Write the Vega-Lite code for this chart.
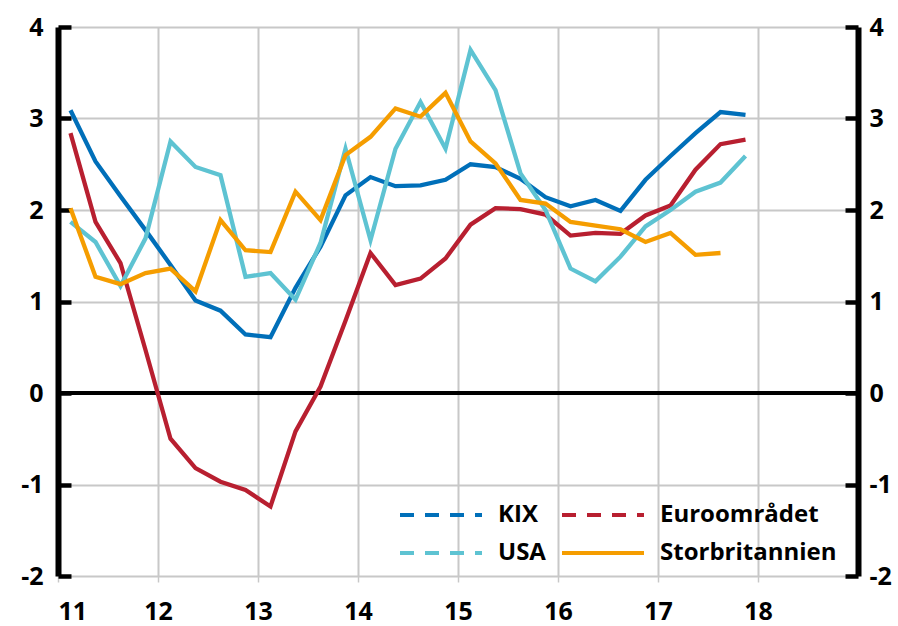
{
  "$schema": "https://vega.github.io/schema/vega-lite/v6.json",
  "width": 800,
  "height": 549,
  "autosize": {"type": "none"},
  "padding": {"left": 58, "top": 27, "right": 40, "bottom": 50},
  "background": "white",
  "config": {
    "view": {"stroke": null},
    "font": "Open Sans",
    "axis": {"labelFont": "Open Sans", "labelFontWeight": "bold", "labelFontSize": 25, "labelColor": "black"}
  },
  "datasets": {
    "series": [
      {"t": 11.125, "KIX": 3.09, "Euroområdet": 2.84, "USA": 1.87, "Storbritannien": 2.02},
      {"t": 11.375, "KIX": 2.53, "Euroområdet": 1.87, "USA": 1.65, "Storbritannien": 1.27},
      {"t": 11.625, "KIX": 2.15, "Euroområdet": 1.42, "USA": 1.17, "Storbritannien": 1.19},
      {"t": 11.875, "KIX": 1.78, "Euroområdet": 0.47, "USA": 1.69, "Storbritannien": 1.31},
      {"t": 12.125, "KIX": 1.40, "Euroområdet": -0.50, "USA": 2.75, "Storbritannien": 1.36},
      {"t": 12.375, "KIX": 1.01, "Euroområdet": -0.82, "USA": 2.47, "Storbritannien": 1.11},
      {"t": 12.625, "KIX": 0.90, "Euroområdet": -0.97, "USA": 2.38, "Storbritannien": 1.89},
      {"t": 12.875, "KIX": 0.64, "Euroområdet": -1.06, "USA": 1.27, "Storbritannien": 1.56},
      {"t": 13.125, "KIX": 0.61, "Euroområdet": -1.24, "USA": 1.31, "Storbritannien": 1.54},
      {"t": 13.375, "KIX": 1.15, "Euroområdet": -0.42, "USA": 1.02, "Storbritannien": 2.20},
      {"t": 13.625, "KIX": 1.60, "Euroområdet": 0.07, "USA": 1.64, "Storbritannien": 1.89},
      {"t": 13.875, "KIX": 2.16, "Euroområdet": 0.79, "USA": 2.67, "Storbritannien": 2.60},
      {"t": 14.125, "KIX": 2.36, "Euroområdet": 1.53, "USA": 1.67, "Storbritannien": 2.80},
      {"t": 14.375, "KIX": 2.26, "Euroområdet": 1.18, "USA": 2.67, "Storbritannien": 3.11},
      {"t": 14.625, "KIX": 2.27, "Euroområdet": 1.25, "USA": 3.18, "Storbritannien": 3.02},
      {"t": 14.875, "KIX": 2.33, "Euroområdet": 1.47, "USA": 2.67, "Storbritannien": 3.28},
      {"t": 15.125, "KIX": 2.50, "Euroområdet": 1.84, "USA": 3.75, "Storbritannien": 2.75},
      {"t": 15.375, "KIX": 2.47, "Euroområdet": 2.02, "USA": 3.31, "Storbritannien": 2.51},
      {"t": 15.625, "KIX": 2.34, "Euroområdet": 2.01, "USA": 2.40, "Storbritannien": 2.11},
      {"t": 15.875, "KIX": 2.14, "Euroområdet": 1.95, "USA": 2.00, "Storbritannien": 2.07},
      {"t": 16.125, "KIX": 2.04, "Euroområdet": 1.72, "USA": 1.36, "Storbritannien": 1.87},
      {"t": 16.375, "KIX": 2.11, "Euroområdet": 1.75, "USA": 1.22, "Storbritannien": 1.83},
      {"t": 16.625, "KIX": 1.99, "Euroområdet": 1.74, "USA": 1.49, "Storbritannien": 1.79},
      {"t": 16.875, "KIX": 2.33, "Euroområdet": 1.94, "USA": 1.82, "Storbritannien": 1.65},
      {"t": 17.125, "KIX": 2.59, "Euroområdet": 2.05, "USA": 2.00, "Storbritannien": 1.75},
      {"t": 17.375, "KIX": 2.84, "Euroområdet": 2.44, "USA": 2.20, "Storbritannien": 1.51},
      {"t": 17.625, "KIX": 3.07, "Euroområdet": 2.72, "USA": 2.30, "Storbritannien": 1.53},
      {"t": 17.875, "KIX": 3.04, "Euroområdet": 2.77, "USA": 2.59, "Storbritannien": null}
    ]
  },
  "data": {"name": "series"},
  "resolve": {"axis": {"y": "independent"}},
  "layer": [
    {
      "mark": {"type": "rule", "color": "black", "strokeWidth": 4},
      "encoding": {
        "y": {
          "datum": 0,
          "type": "quantitative",
          "scale": {"domain": [-2, 4], "nice": false},
          "axis": {
            "orient": "right",
            "values": [-2, -1, 0, 1, 2, 3, 4],
            "labelExpr": "datum.value < 0 ? '-' + abs(datum.value) : '' + datum.value",
            "grid": false,
            "domain": true, "domainColor": "black", "domainWidth": 6,
            "ticks": true, "tickColor": "black", "tickWidth": 4.5, "tickSize": -13,
            "labelPadding": 24,
            "title": null
          }
        }
      }
    },
    {
      "transform": [
        {"fold": ["KIX", "Euroområdet", "USA", "Storbritannien"], "as": ["serie", "v"]},
        {"filter": "datum.v != null"}
      ],
      "mark": {"type": "line", "strokeWidth": 4.3, "strokeJoin": "miter"},
      "encoding": {
        "x": {
          "field": "t", "type": "quantitative",
          "scale": {"domain": [11, 19], "nice": false, "zero": false},
          "axis": {
            "values": [11, 12, 13, 14, 15, 16, 17, 18],
            "format": "d",
            "grid": true, "gridColor": "#c8c8c8", "gridWidth": 2,
            "domain": false,
            "ticks": true, "tickColor": "#c8c8c8", "tickWidth": 1.5, "tickSize": 6,
            "labelPadding": 17,
            "title": null
          }
        },
        "y": {
          "field": "v", "type": "quantitative",
          "scale": {"domain": [-2, 4], "nice": false},
          "axis": {
            "orient": "left",
            "values": [-2, -1, 0, 1, 2, 3, 4],
            "labelExpr": "datum.value < 0 ? '-' + abs(datum.value) : '' + datum.value",
            "grid": true, "gridColor": "#c8c8c8", "gridWidth": 2,
            "domain": true, "domainColor": "black", "domainWidth": 6,
            "ticks": true, "tickColor": "black", "tickWidth": 4.5, "tickSize": -13,
            "labelPadding": 28,
            "title": null
          }
        },
        "color": {
          "field": "serie", "type": "nominal",
          "scale": {
            "domain": ["KIX", "USA", "Euroområdet", "Storbritannien"],
            "range": ["#006fb9", "#5ec3d2", "#b81f30", "#f59d00"]
          },
          "legend": {
            "title": null,
            "orient": "none",
            "legendX": 340,
            "legendY": 475,
            "columns": 2,
            "symbolType": "stroke",
            "symbolSize": 6724,
            "symbolStrokeWidth": 4,
            "clipHeight": 26,
            "labelFont": "Open Sans",
            "labelFontWeight": "bold",
            "labelFontSize": 24,
            "labelColor": "black",
            "labelLimit": 400,
            "labelOffset": 14,
            "columnPadding": 14,
            "rowPadding": 12,
            "encode": {
              "symbols": {
                "update": {
                  "strokeDash": {"signal": "datum.value === 'Storbritannien' ? [] : [14, 11]"}
                }
              }
            }
          }
        }
      }
    }
  ]
}
